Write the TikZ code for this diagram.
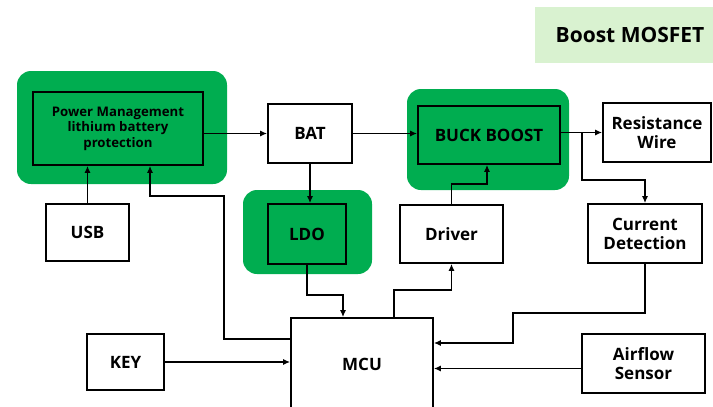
\documentclass[tikz,border=0pt]{standalone}
\usepackage{fontspec}
\setmainfont{Open Sans}
\usetikzlibrary{calc,arrows.meta}
\definecolor{chipgreen}{RGB}{0,173,80}
\definecolor{palegreen}{RGB}{217,242,208}
\tikzset{
  blk/.style={draw,line width=1.6pt,align=center,font=\bfseries\fontsize{17}{19}\selectfont,inner sep=2pt},
  halo/.style={fill=chipgreen,rounded corners=14pt,inner sep=0pt},
  wire/.style={line width=1.6pt,-{Latex[length=7pt,width=6pt]}}
}
\begin{document}
\begin{tikzpicture}[x=1pt,y=-1pt]
  \useasboundingbox (0,0) rectangle (713,407);
  % green backgrounds
  \node[halo,minimum width=210,minimum height=113] (pmbg) at (122,127.5) {};
  \node[halo,minimum width=162,minimum height=101] (buckbg) at (488,139.5) {};
  \node[halo,minimum width=129,minimum height=84] (ldobg) at (307.5,232) {};
  \node[fill=palegreen,minimum width=190,minimum height=56,font=\bfseries\fontsize{21}{24}\selectfont] (title) at (630,35) {Boost MOSFET};
  % blocks
  \node[blk,fill=chipgreen,minimum width=170,minimum height=73,font=\bfseries\fontsize{13.2}{15.5}\selectfont] (pm) at (118,128.5) {Power Management\\lithium battery\\protection};
  \node[blk,fill=white,minimum width=84,minimum height=59] (bat) at (310,133.5) {BAT};
  \node[blk,fill=chipgreen,minimum width=142,minimum height=58] (buck) at (489,135) {BUCK BOOST};
  \node[blk,fill=white,minimum width=108,minimum height=59] (res) at (657,132.5) {Resistance\\Wire};
  \node[blk,fill=white,minimum width=83,minimum height=57] (usb) at (87.5,232.5) {USB};
  \node[blk,fill=chipgreen,minimum width=78,minimum height=60] (ldo) at (307,234) {LDO};
  \node[blk,fill=white,minimum width=103,minimum height=58] (driver) at (451.5,234) {Driver};
  \node[blk,fill=white,minimum width=114,minimum height=59] (cur) at (645,233.5) {Current\\Detection};
  \node[blk,fill=white,minimum width=142,minimum height=92] (mcu) at (362,364) {MCU};
  \node[blk,fill=white,minimum width=77,minimum height=56] (key) at (125.5,362) {KEY};
  \node[blk,fill=white,minimum width=123,minimum height=59] (air) at (643.5,363.5) {Airflow\\Sensor};
  % connectors
  \coordinate (split) at (582,133);
  \coordinate (cdturn) at (582,180);
  \coordinate (fbturn) at (224,196);
  \coordinate (cdbend) at (513,313);
  \coordinate (airout) at ($(air.west)+(0,5)$);
  \draw[wire] (bat.west -| pm.east) -- (bat.west);
  \draw[wire] (bat.east) -- (bat.east -| buck.west);
  \draw[wire] (res.west -| buck.east) -- (res.west);
  \draw[wire] (split) -- (cdturn) -| (cur.north);
  \draw[wire] (bat.south) -- (bat.south |- ldo.north);
  \draw[wire] (usb.north) -- (usb.north |- pm.south);
  \draw[wire] ($(mcu.west)+(0,-25)$) -| (fbturn) -| ($(pm.south)+(32,0)$);
  \draw[wire] (ldo.south) -- ++(0,30) -| ($(mcu.north)+(-19,0)$);
  \draw[wire] ($(mcu.north)+(32,0)$) -- ++(0,-27) -| (driver.south);
  \draw[wire] (driver.north) -- ++(0,-20) -| ($(buck.south)+(-2,0)$);
  \draw[wire] (key.east) -- (key.east -| mcu.west);
  \draw[wire] (cur.south) |- (cdbend) |- ($(mcu.east)+(0,-21)$);
  \draw[wire] (airout) -- (airout -| mcu.east);
\end{tikzpicture}
\end{document}
